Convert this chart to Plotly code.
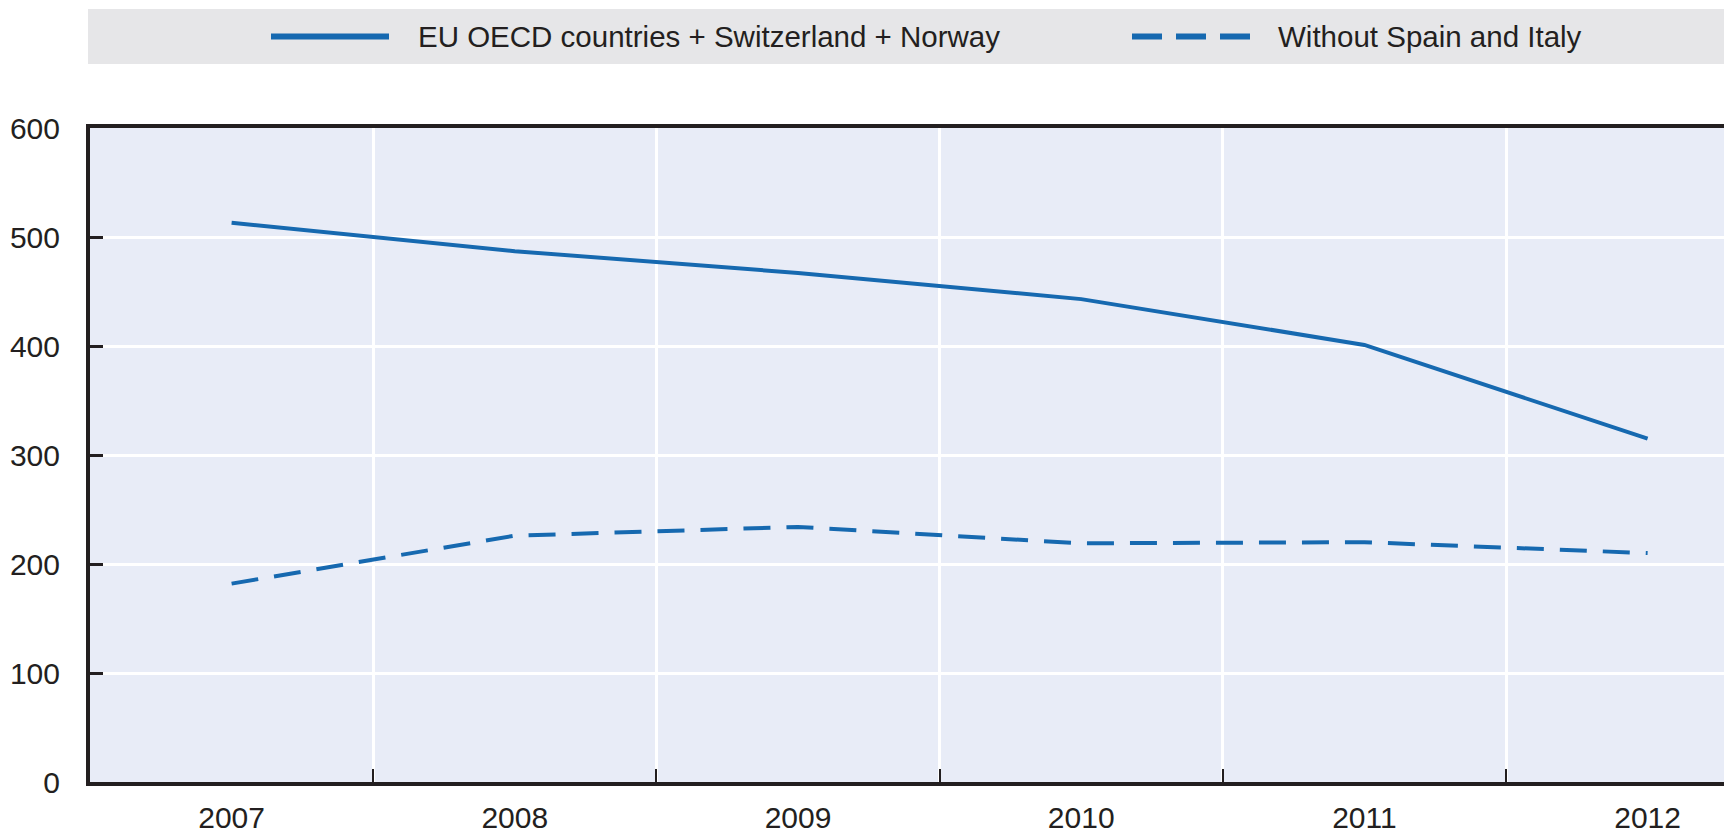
import plotly.graph_objects as go

years = ["2007", "2008", "2009", "2010", "2011", "2012"]
eu_all = [513, 487, 467, 443, 401, 315]
without_es_it = [182, 226, 234, 219, 220, 210]
series_names = ["EU OECD countries + Switzerland + Norway", "Without Spain and Italy"]
y_ticks = [0, 100, 200, 300, 400, 500, 600]

BLUE = "#1669b0"
INK = "#231f20"
OFF = 8  # page body margin
W, H = 1732 - OFF, 836 - OFF
ML, MR, MT, MB = 82, 0, 120, 54
PW, PH = W - ML - MR, H - MT - MB

def px_x(wx):
    return (wx - OFF - ML) / PW

def px_y(wy):
    return (H - MB - (wy - OFF)) / PH

FONT = "Liberation Sans Narrow, Arial Narrow, Liberation Sans, Arial, sans-serif"

fig = go.Figure()
fig.add_trace(go.Scatter(x=years, y=eu_all, mode="lines", name=series_names[0],
                         line=dict(color=BLUE, width=4)))
fig.add_trace(go.Scatter(x=years, y=without_es_it, mode="lines", name=series_names[1],
                         line=dict(color=BLUE, width=4, dash="27px,16px")))

shapes = [
    dict(type="rect", xref="paper", yref="paper", x0=px_x(88), x1=1, y0=px_y(64), y1=px_y(9),
         fillcolor="#e6e6e8", line=dict(width=0), layer="below"),
    dict(type="line", xref="paper", yref="paper", x0=px_x(271), x1=px_x(389),
         y0=px_y(36.5), y1=px_y(36.5), line=dict(color=BLUE, width=6)),
    dict(type="line", xref="paper", yref="paper", x0=px_x(1132), x1=px_x(1251),
         y0=px_y(36.5), y1=px_y(36.5), line=dict(color=BLUE, width=6, dash="30px,14px")),
]
annotations = [
    dict(text=series_names[0], xref="paper", yref="paper", x=px_x(416), y=px_y(37),
         xanchor="left", yanchor="middle", showarrow=False,
         font=dict(family=FONT, size=29.5, color=INK)),
    dict(text=series_names[1], xref="paper", yref="paper", x=px_x(1276), y=px_y(37),
         xanchor="left", yanchor="middle", showarrow=False,
         font=dict(family=FONT, size=29.5, color=INK)),
]

fig.update_layout(
    width=W, height=H,
    margin=dict(l=ML, r=MR, t=MT, b=MB, pad=0, autoexpand=False),
    paper_bgcolor="white", plot_bgcolor="#e8ecf7",
    showlegend=False,
    shapes=shapes, annotations=annotations,
    font=dict(family=FONT, size=30, color=INK),
    xaxis=dict(type="category", range=[-0.5, 5.298], tickson="boundaries",
               ticks="inside", ticklen=13, tickwidth=2, tickcolor=INK,
               showgrid=True, gridcolor="white", gridwidth=3,
               showline=True, linecolor=INK, linewidth=4, mirror=True,
               automargin=False,
               ticklabelstandoff=6, tickfont=dict(size=30)),
    yaxis=dict(range=[0, 600], tickvals=y_ticks, ticks="inside", ticklen=13,
               tickwidth=3, tickcolor=INK,
               showgrid=True, gridcolor="white", gridwidth=3,
               showline=True, linecolor=INK, linewidth=4,
               zeroline=False, automargin=False,
               ticklabelstandoff=20, tickfont=dict(size=30)),
)

fig.write_html("out.html")
